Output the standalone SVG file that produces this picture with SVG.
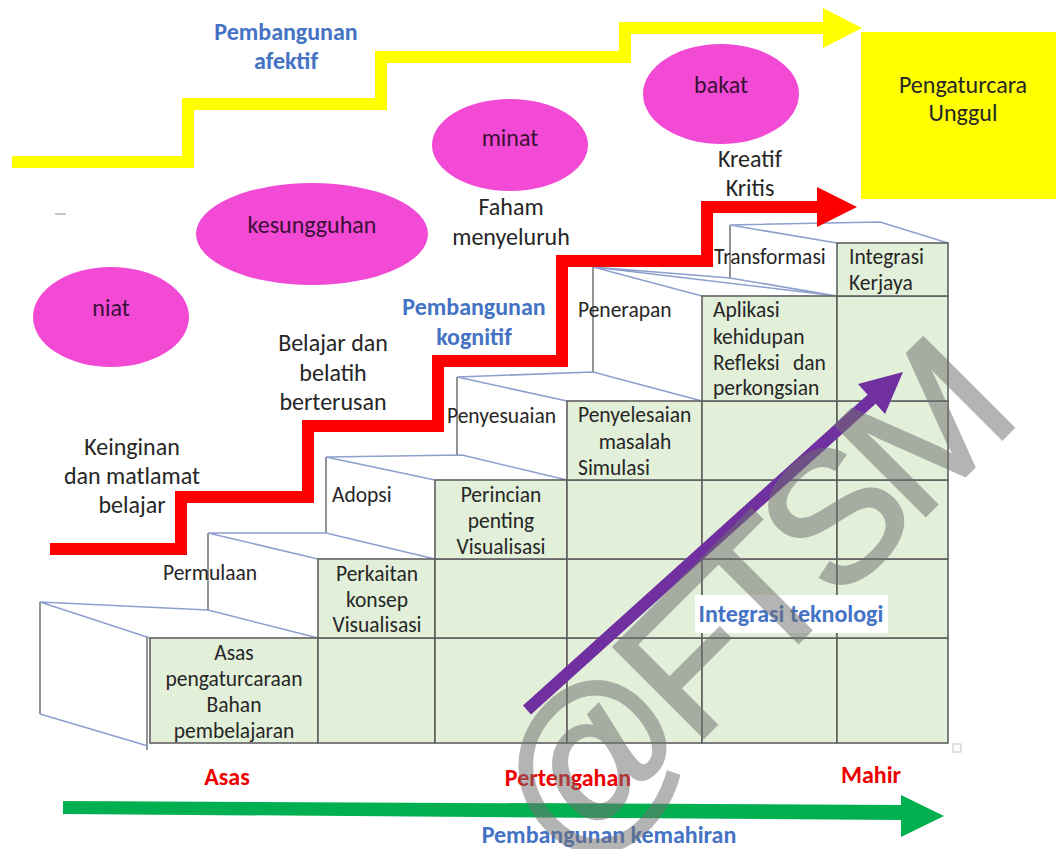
<svg xmlns="http://www.w3.org/2000/svg" width="1056" height="849" viewBox="0 0 1056 849">
  <style>
    text { font-family: Carlito, Lato, "Liberation Sans", sans-serif; }
    .t { font-size: 21.5px; fill: #262626; }
    .l { font-size: 24px; fill: #262626; }
    .c { text-anchor: middle; }
    .blue { font-size: 24px; font-weight: bold; fill: #4472c4; text-anchor: middle; }
    .red { font-size: 24px; font-weight: bold; fill: #ee0000; text-anchor: middle; }
    .oval { fill: #f24ad5; }
    .ovaltext { font-size: 24px; fill: #3a1036; text-anchor: middle; }
    .cell { fill: #e2efd9; stroke: #5f5f5f; stroke-width: 1.6; }
    .edge { stroke: #8d9fcc; stroke-width: 1.5; fill: none; }
    .post { stroke: #7b7b7b; stroke-width: 1.6; fill: none; }
    .mark { font-family: "Liberation Sans", Arial, sans-serif; font-size: 185px; fill: #707070; stroke: #707070; stroke-width: 3; letter-spacing: -12px; }
  </style>

  <rect width="1056" height="849" fill="#ffffff"/>

  <!-- perspective outline of the stair treads -->
  <g id="stair-outline">
    <path class="post" d="M40,602 V714 M208,533 V611 M326,457 V533 M457,377 V455 M593,267 V372 M730,225 V278 M147,636 V750"/>
    <path class="edge" d="M40,602 L150,638 M40,714 L148,746 M40,602 L208,610 L318,638
      M208,533 L318,559 M208,533 L326,533 L435,559
      M326,457 L435,480 M326,457 L462,455 L567,480
      M457,377 L567,401 M457,377 L593,372 L702,401
      M593,267 L702,296 M593,267 L837,296 M593,267 L730,278 L837,296
      M730,225 L837,243 M730,225 L880,222 L948,243"/>
  </g>

  <!-- green grid of the staircase -->
  <g id="grid">
    <rect class="cell" x="150" y="638" width="168" height="105"/>
    <rect class="cell" x="318" y="638" width="117" height="105"/>
    <rect class="cell" x="318" y="559" width="117" height="79"/>
    <rect class="cell" x="435" y="638" width="132" height="105"/>
    <rect class="cell" x="435" y="559" width="132" height="79"/>
    <rect class="cell" x="435" y="480" width="132" height="79"/>
    <rect class="cell" x="567" y="638" width="135" height="105"/>
    <rect class="cell" x="567" y="559" width="135" height="79"/>
    <rect class="cell" x="567" y="480" width="135" height="79"/>
    <rect class="cell" x="567" y="401" width="135" height="79"/>
    <rect class="cell" x="702" y="638" width="135" height="105"/>
    <rect class="cell" x="702" y="559" width="135" height="79"/>
    <rect class="cell" x="702" y="480" width="135" height="79"/>
    <rect class="cell" x="702" y="401" width="135" height="79"/>
    <rect class="cell" x="702" y="296" width="135" height="105"/>
    <rect class="cell" x="837" y="638" width="111" height="105"/>
    <rect class="cell" x="837" y="559" width="111" height="79"/>
    <rect class="cell" x="837" y="480" width="111" height="79"/>
    <rect class="cell" x="837" y="401" width="111" height="79"/>
    <rect class="cell" x="837" y="296" width="111" height="105"/>
    <rect class="cell" x="837" y="243" width="111" height="53"/>
    <rect x="953" y="744" width="8" height="8" fill="none" stroke="#c4c4c4" stroke-width="1"/>
    <path d="M55,214 H66" stroke="#b0b0b0" stroke-width="1.5"/>
  </g>

  <!-- stair step labels -->
  <g id="step-1">
    <text class="t c" x="234" y="660">Asas</text>
    <text class="t c" x="234" y="686">pengaturcaraan</text>
    <text class="t c" x="234" y="712">Bahan</text>
    <text class="t c" x="234" y="738">pembelajaran</text>
  </g>
  <g id="step-2">
    <text class="t" x="163" y="580">Permulaan</text>
    <text class="t c" x="377" y="581">Perkaitan</text>
    <text class="t c" x="377" y="607">konsep</text>
    <text class="t c" x="377" y="632">Visualisasi</text>
  </g>
  <g id="step-3">
    <text class="t" x="332" y="502">Adopsi</text>
    <text class="t c" x="501" y="502">Perincian</text>
    <text class="t c" x="501" y="528">penting</text>
    <text class="t c" x="501" y="554">Visualisasi</text>
  </g>
  <g id="step-4">
    <text class="t" x="447" y="423">Penyesuaian</text>
    <text class="t" x="578" y="422">Penyelesaian</text>
    <text class="t c" x="635" y="449">masalah</text>
    <text class="t" x="578" y="475">Simulasi</text>
  </g>
  <g id="step-5">
    <text class="t" x="578" y="317">Penerapan</text>
    <text class="t" x="713" y="317">Aplikasi</text>
    <text class="t" x="713" y="344">kehidupan</text>
    <text class="t" x="713" y="370">Refleksi<tspan x="793">dan</tspan></text>
    <text class="t" x="713" y="395">perkongsian</text>
  </g>
  <g id="step-6">
    <text class="t" x="714" y="264">Transformasi</text>
    <text class="t" x="849" y="264">Integrasi</text>
    <text class="t" x="849" y="290">Kerjaya</text>
  </g>

  <!-- affective ovals -->
  <g id="niat">
    <ellipse class="oval" cx="111" cy="317" rx="78" ry="50"/>
    <text class="ovaltext" x="111" y="316">niat</text>
  </g>
  <g id="kesungguhan">
    <ellipse class="oval" cx="312" cy="234" rx="116" ry="51"/>
    <text class="ovaltext" x="312" y="233">kesungguhan</text>
  </g>
  <g id="minat">
    <ellipse class="oval" cx="510" cy="145" rx="78" ry="46"/>
    <text class="ovaltext" x="510" y="146">minat</text>
  </g>
  <g id="bakat">
    <ellipse class="oval" cx="721" cy="94" rx="78" ry="50"/>
    <text class="ovaltext" x="721" y="93">bakat</text>
  </g>

  <!-- goal box -->
  <g id="pengaturcara-unggul">
    <rect x="861" y="32" width="195" height="167" fill="#ffff00"/>
    <text class="l c" x="963" y="93">Pengaturcara</text>
    <text class="l c" x="963" y="121">Unggul</text>
  </g>

  <!-- cognitive milestones -->
  <g id="keinginan">
    <text class="l c" x="132" y="455">Keinginan</text>
    <text class="l c" x="132" y="484">dan matlamat</text>
    <text class="l c" x="132" y="513">belajar</text>
  </g>
  <g id="belajar">
    <text class="l c" x="333" y="351">Belajar dan</text>
    <text class="l c" x="333" y="381">belatih</text>
    <text class="l c" x="333" y="410">berterusan</text>
  </g>
  <g id="faham">
    <text class="l c" x="511" y="215">Faham</text>
    <text class="l c" x="511" y="245">menyeluruh</text>
  </g>
  <g id="kreatif">
    <text class="l c" x="750" y="167">Kreatif</text>
    <text class="l c" x="750" y="196">Kritis</text>
  </g>

  <!-- development tracks -->
  <g id="connectors">
    <g id="afektif-track">
      <path d="M12,162 H188 V104 H381 V57 H625 V28 H824" fill="none" stroke="#ffff00" stroke-width="12"/>
      <polygon points="823,8 862,28 823,48" fill="#ffff00"/>
    </g>
    <g id="kognitif-track">
      <path d="M50,549 H181 V497 H308 V426 H438 V361 H562 V261 H707 V207 H818" fill="none" stroke="#ff0000" stroke-width="12"/>
      <polygon points="817,187 857,207 817,227" fill="#ff0000"/>
    </g>
    <g id="kemahiran-track">
      <polygon points="63,801 903,805 903,820 63,814" fill="#00b050"/>
      <polygon points="901,795 944,816 901,837" fill="#00b050"/>
    </g>
    <g id="teknologi-track">
      <line x1="527" y1="710" x2="873" y2="398" stroke="#7030a0" stroke-width="12"/>
      <polygon points="903,372 858,384 885,414" fill="#7030a0"/>
    </g>
  </g>

  <!-- track captions -->
  <g id="captions">
    <text class="blue" x="286" y="40">Pembangunan</text>
    <text class="blue" x="286" y="69">afektif</text>
    <text class="blue" x="474" y="315">Pembangunan</text>
    <text class="blue" x="474" y="345">kognitif</text>
    <rect x="695" y="595" width="193" height="38" fill="#ffffff"/>
    <text class="blue" x="791" y="622">Integrasi teknologi</text>
    <text class="red" x="227" y="785">Asas</text>
    <text class="red" x="568" y="786">Pertengahan</text>
    <text class="red" x="871" y="783">Mahir</text>
    <text class="blue" x="609" y="843">Pembangunan kemahiran</text>
  </g>

  <!-- owner mark -->
  <g opacity="0.52">
    <text class="mark" transform="translate(569,872) rotate(-45)">@FTSM</text>
  </g>
</svg>
